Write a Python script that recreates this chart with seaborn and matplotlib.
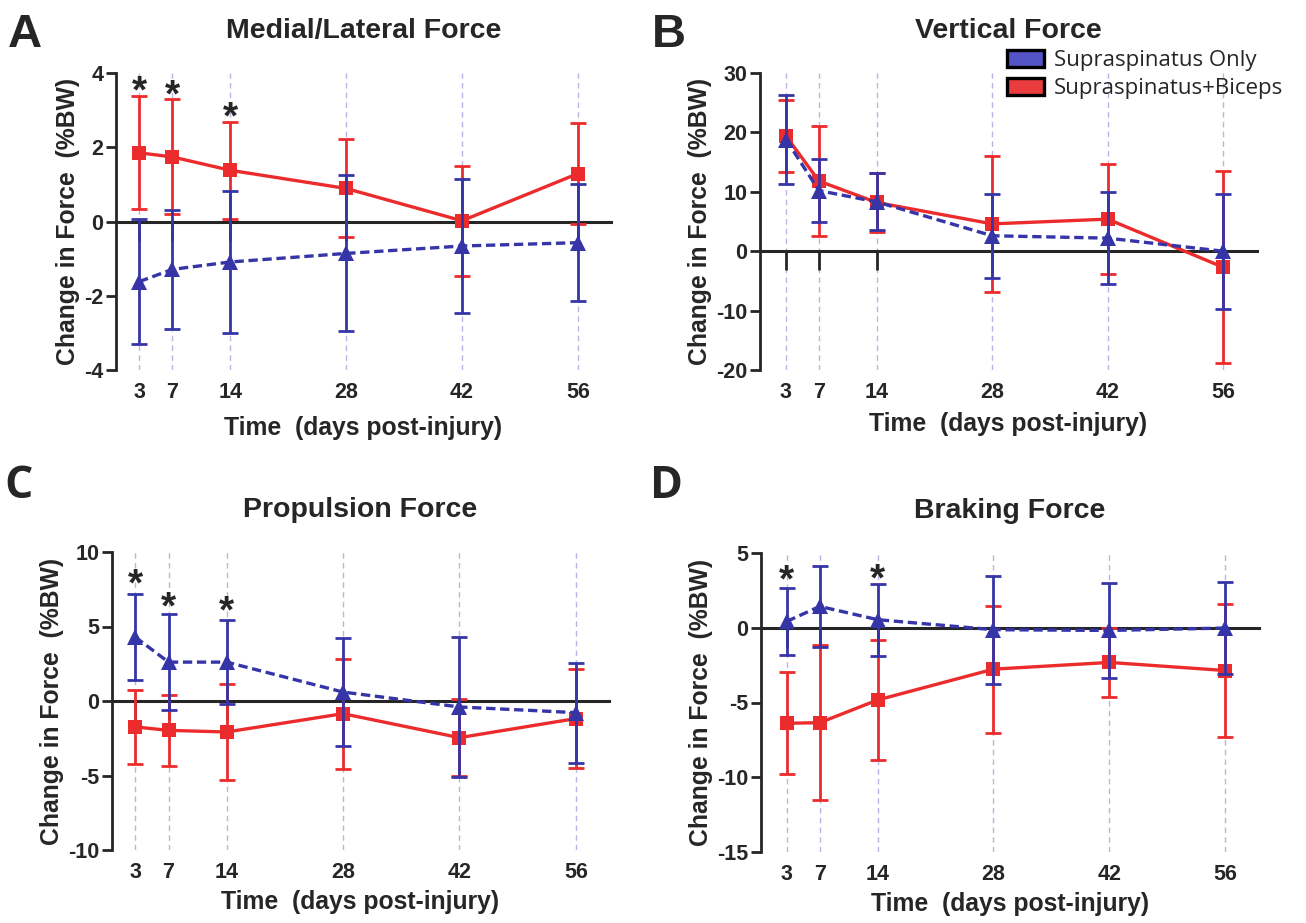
"""
Ground reaction force changes after rotator cuff injury (4 panels).
"""

import matplotlib
matplotlib.use("Agg")
import matplotlib.pyplot as plt
import seaborn as sns
import pandas as pd
from matplotlib.patches import Patch

days = [3, 7, 14, 28, 42, 56]
star_days = [3, 7, 14]
groups = ["Supraspinatus Only", "Supraspinatus+Biceps"]

# A - medial/lateral
ml_only_mean = [-1.62, -1.29, -1.09, -0.86, -0.66, -0.57]
ml_only_err = [1.68, 1.60, 1.90, 2.10, 1.80, 1.58]
ml_bic_mean = [1.85, 1.74, 1.38, 0.89, 0.02, 1.29]
ml_bic_err = [1.52, 1.55, 1.30, 1.32, 1.48, 1.35]
ml_stars = [3.80, 3.70, 3.10]

# B - vertical
vt_only_mean = [18.8, 10.2, 8.3, 2.6, 2.2, 0.0]
vt_only_err = [7.5, 5.3, 4.8, 7.1, 7.8, 9.7]
vt_bic_mean = [19.4, 11.8, 8.2, 4.6, 5.4, -2.7]
vt_bic_err = [6.0, 9.3, 4.9, 11.5, 9.3, 16.2]
vt_stars = []

# C - propulsion
pr_only_mean = [4.29, 2.61, 2.61, 0.60, -0.40, -0.78]
pr_only_err = [2.90, 3.20, 2.80, 3.60, 4.70, 3.35]
pr_bic_mean = [-1.74, -1.97, -2.08, -0.85, -2.46, -1.18]
pr_bic_err = [2.50, 2.40, 3.20, 3.70, 2.60, 3.30]
pr_stars = [8.6, 7.0, 6.75]

# D - braking
br_only_mean = [0.42, 1.43, 0.54, -0.13, -0.18, -0.02]
br_only_err = [2.25, 2.70, 2.40, 3.60, 3.15, 3.10]
br_bic_mean = [-6.39, -6.35, -4.83, -2.77, -2.32, -2.86]
br_bic_err = [3.40, 5.20, 4.00, 4.25, 2.30, 4.45]
br_stars = [3.9, 5.35, 4.0]

BLUE = "#3535a8"
RED = "#ec2c2c"
GRID = "#bcb4e4"

sns.set_style("ticks")
plt.rcParams["font.family"] = ["Liberation Sans", "DejaVu Sans"]
plt.rcParams["font.weight"] = "bold"
plt.rcParams["axes.unicode_minus"] = False

W, H = 1306, 923
fig = plt.figure(figsize=(W / 100, H / 100), dpi=100)


def px_axes(left, top, right, bottom):
    return fig.add_axes([left / W, 1 - bottom / H, (right - left) / W, (bottom - top) / H])


panels = [
    dict(rect=(116, 73, 611, 370), title="Medial/Lateral Force", ylim=(-4, 4),
         yticks=[-4, -2, 0, 2, 4], xlim=(0.2, 60.0), xlpad=9,
         only=(ml_only_mean, ml_only_err), bic=(ml_bic_mean, ml_bic_err), stars=ml_stars),
    dict(rect=(760, 73, 1257, 370), title="Vertical Force", ylim=(-20, 30),
         yticks=[-20, -10, 0, 10, 20, 30], xlim=(-0.15, 60.1), xlpad=6,
         only=(vt_only_mean, vt_only_err), bic=(vt_bic_mean, vt_bic_err), stars=vt_stars),
    dict(rect=(112, 552, 609, 850), title="Propulsion Force", ylim=(-10, 10),
         yticks=[-10, -5, 0, 5, 10], xlim=(0.2, 60.0), xlpad=5,
         only=(pr_only_mean, pr_only_err), bic=(pr_bic_mean, pr_bic_err), stars=pr_stars),
    dict(rect=(761, 553, 1259, 852), title="Braking Force", ylim=(-15, 5),
         yticks=[-15, -10, -5, 0, 5], xlim=(-0.1, 60.1), xlpad=5,
         only=(br_only_mean, br_only_err), bic=(br_bic_mean, br_bic_err), stars=br_stars),
]

for p in panels:
    ax = px_axes(*p["rect"])
    df = pd.DataFrame({
        "day": days * 2,
        "value": list(p["bic"][0]) + list(p["only"][0]),
        "group": [groups[1]] * len(days) + [groups[0]] * len(days),
    })

    # red first, blue on top
    ax.errorbar(days, p["bic"][0], yerr=p["bic"][1], fmt="none", ecolor=RED,
                elinewidth=2.0, capsize=5.5, capthick=2.0, zorder=2)
    sns.lineplot(data=df[df.group == groups[1]], x="day", y="value", color=RED,
                 marker="s", markersize=10, markeredgewidth=0, linewidth=2.4,
                 errorbar=None, ax=ax, zorder=3, legend=False)
    ax.errorbar(days, p["only"][0], yerr=p["only"][1], fmt="none", ecolor=BLUE,
                elinewidth=2.0, capsize=5.5, capthick=2.0, zorder=4)
    sns.lineplot(data=df[df.group == groups[0]], x="day", y="value", color=BLUE,
                 marker="^", markersize=11, markeredgewidth=0, linewidth=2.4,
                 linestyle=(0, (2.8, 1.4)), errorbar=None, ax=ax, zorder=5, legend=False)

    for d, s in zip(star_days, p["stars"]):
        ax.annotate("*", (d, s), xytext=(0, -16), textcoords="offset points",
                    ha="center", va="baseline", fontsize=28, fontweight="bold")

    ax.set_xlim(*p["xlim"])
    ax.set_ylim(*p["ylim"])
    ax.set_xticks(days)
    ax.set_yticks(p["yticks"])
    ax.grid(axis="x", color=GRID, linestyle=(0, (4, 3)), linewidth=1.0)
    ax.set_axisbelow(True)

    for side in ["top", "right", "bottom"]:
        ax.spines[side].set_visible(False)
    ax.spines["left"].set_linewidth(2.0)
    ax.tick_params(axis="y", length=7, width=2.0, labelsize=15.5, pad=2)
    ax.tick_params(axis="x", length=0, labelsize=15.5, pad=9)

    # x axis crossing at y=0 with hanging ticks
    zero = ax.secondary_xaxis(0, transform=ax.transData)
    zero.set_zorder(1)
    zero.set_xticks(days)
    zero.tick_params(axis="x", length=14, width=2.0, labelbottom=False)
    zero.spines["bottom"].set_linewidth(2.2)

    ax.set_xlabel("Time  (days post-injury)", fontsize=17.8, fontweight="bold",
                  labelpad=p["xlpad"])
    ax.set_ylabel("Change in Force  (%BW)", fontsize=17.8, fontweight="bold", labelpad=3)
    ax.set_title(p["title"], fontsize=20.5, fontweight="bold", pad=25)

# panel letters
fig.text(8 / W, 1 - 47 / H, "A", fontsize=34, fontweight="bold", va="baseline")
fig.text(652 / W, 1 - 47 / H, "B", fontsize=34, fontweight="bold", va="baseline")
fig.text(4 / W, 1 - 498 / H, "C", fontsize=32, fontweight="bold", va="baseline",
         family=["Open Sans", "DejaVu Sans"])
fig.text(650 / W, 1 - 498 / H, "D", fontsize=32, fontweight="bold", va="baseline",
         family=["Open Sans", "DejaVu Sans"])

handles = [Patch(facecolor="#5454c6", edgecolor="black", linewidth=2.4),
           Patch(facecolor="#ea3c3c", edgecolor="black", linewidth=2.4)]
fig.legend(handles, groups, loc="upper left", bbox_to_anchor=(1007 / W, 1 - 50 / H),
           frameon=False, handlelength=1.65, handleheight=0.8, handletextpad=0.45,
           labelspacing=0.3, borderpad=0, borderaxespad=0,
           prop=dict(family=["Open Sans", "DejaVu Sans"], weight="normal", size=16))

fig.savefig("out.png", dpi=100)
